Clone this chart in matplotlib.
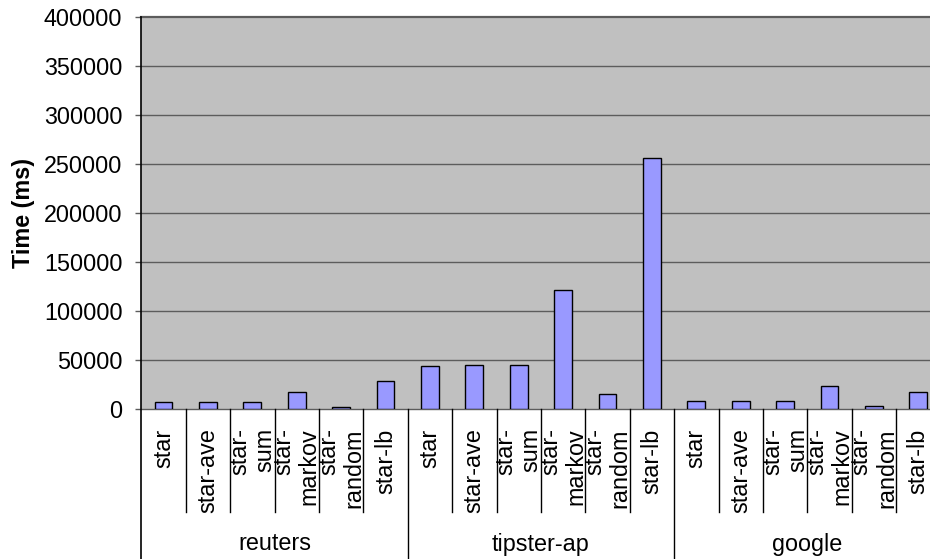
import matplotlib
matplotlib.use("Agg")
import matplotlib.pyplot as plt
from matplotlib.lines import Line2D

# Query timing per method on each dataset
datasets = ["reuters", "tipster-ap", "google"]
methods = ["star", "star-ave", "star-\nsum", "star-\nmarkov", "star-\nrandom", "star-lb"]
reuters_ms = [7800, 7800, 7600, 17400, 2700, 28700]
tipster_ms = [44300, 45000, 45700, 121800, 16000, 256200]
google_ms = [8800, 8800, 8800, 23500, 3700, 17400]
y_ticks = [0, 50000, 100000, 150000, 200000, 250000, 300000, 350000, 400000]

plt.rcParams["font.family"] = ["Liberation Sans", "DejaVu Sans"]
FS = 16.8
GRID = "#5c5c5c"

W, H = 930, 559
fig = plt.figure(figsize=(W / 100, H / 100), dpi=100)
left_px, right_px, top_px, bot_px = 141.3, 940.5, 17.3, 409.3
ax = fig.add_axes([left_px / W, (H - bot_px) / H,
                   (right_px - left_px) / W, (bot_px - top_px) / H])
ax.set_facecolor("#c0c0c0")

values = reuters_ms + tipster_ms + google_ms
n = len(values)
xs = [i + 0.5 for i in range(n)]
ax.bar(xs, values, width=0.405, color="#9999ff", edgecolor="black",
       linewidth=1.0, zorder=3)

ax.set_xlim(0, n)
ax.set_ylim(0, 400000)

# horizontal gridlines (the top one doubles as the plot border)
for t in y_ticks:
    ax.axhline(t, color=GRID, lw=1.6 if t == 400000 else 1.0,
               zorder=2, clip_on=False)

for s in ["top", "right", "bottom", "left"]:
    ax.spines[s].set_visible(False)

ax.set_yticks(y_ticks)
ax.set_yticklabels([str(t) for t in y_ticks], fontsize=FS)
ax.tick_params(axis="y", length=4.3, width=1.0, color=GRID, pad=9.3)
ax.set_xticks([])

# left border running down through the category area
fig.add_artist(Line2D([left_px / W, left_px / W], [1 - top_px / H, 0],
                      color="black", lw=1.2, transform=fig.transFigure))

trans = ax.get_xaxis_transform()
ax_h = bot_px - top_px
inner_bottom = -(511.7 - bot_px) / ax_h
outer_bottom = -(H - bot_px + 2) / ax_h

# category dividers and group dividers
for i in range(1, n):
    yb = outer_bottom if i % len(methods) == 0 else inner_bottom
    ax.add_line(Line2D([i, i], [0, yb], color="black", lw=1.0,
                       transform=trans, clip_on=False))

# method labels, rotated and hung from the axis
for g in range(len(datasets)):
    for j, m in enumerate(methods):
        x = g * len(methods) + j + 0.5
        ax.annotate(m, xy=(x, 0), xycoords=trans,
                    xytext=(0, -(428.3 - bot_px) * 0.72),
                    textcoords="offset points", rotation=90,
                    ha="center", va="top", multialignment="right",
                    linespacing=1.12, fontsize=FS)

# dataset labels
for g, d in enumerate(datasets):
    x = g * len(methods) + len(methods) / 2
    ax.annotate(d, xy=(x, 0), xycoords=trans,
                xytext=(0, -(544 - bot_px) * 0.72),
                textcoords="offset points", ha="center", va="center",
                fontsize=FS)

fig.text(23.5 / W, 1 - 213.5 / H, "Time (ms)", rotation=90, ha="center",
         va="center", fontsize=FS, fontweight="bold")

fig.savefig("out.png", dpi=100)
